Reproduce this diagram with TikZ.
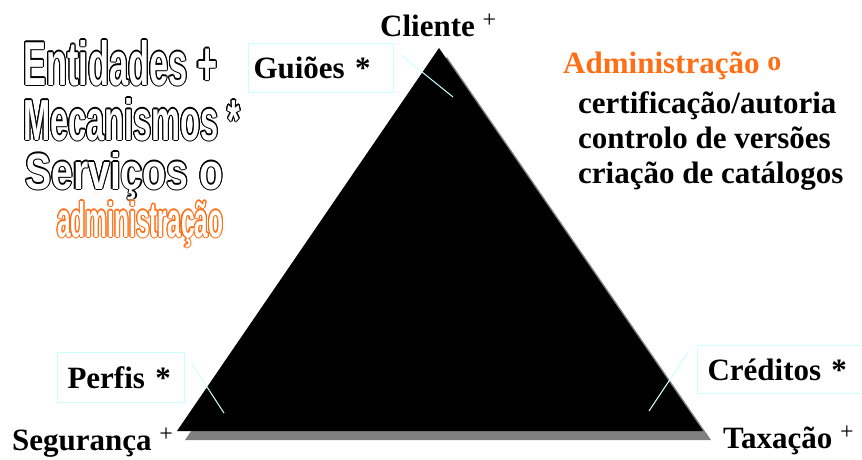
\documentclass[tikz,border=0pt]{standalone}
\usepackage{fontspec}
\usepackage{graphicx}
\setmainfont{Liberation Serif}
\newfontfamily\olfont{Liberation Sans}
\definecolor{orng}{RGB}{255,110,20}
\definecolor{pcyan}{RGB}{204,255,255}
\definecolor{shadowgray}{RGB}{128,128,128}
\newcommand\supplus{{\fontsize{24}{24}\selectfont\mdseries\raisebox{9pt}{+}}}
\newcommand\myOutline[6]{%
  \foreach \ang in {0,30,...,330}{%
    \node[otext,text=#3,shift={(\ang:1.1pt)}] at #1 {\resizebox{#4}{#5}{\olfont\bfseries #6}};}%
  \node[otext,text=white] (#2) at #1 {\resizebox{#4}{#5}{\olfont\bfseries #6}};%
}
\begin{document}
\begin{tikzpicture}[x=1pt,y=-1pt,
  otext/.style={anchor=base west,inner sep=0pt},
  lbl/.style={anchor=base west,inner sep=0pt,font=\fontsize{31}{36}\selectfont\bfseries},
  cbox/.style={draw=pcyan,line width=1pt,anchor=north west,align=left,
    font=\fontsize{31}{36}\selectfont\bfseries},
  cline/.style={draw=pcyan,line width=1pt}]
\useasboundingbox (0,0) rectangle (862,459);
\clip (0,0) rectangle (862,459);
% triangle
\coordinate (apex) at (439,48);
\coordinate (bl) at (177,431);
\coordinate (br) at (703,431);
\fill[shadowgray] ([shift={(8,9)}]apex) -- ([shift={(8,9)}]bl) -- ([shift={(8,9)}]br) -- cycle;
\fill[black] (apex) -- (bl) -- (br) -- cycle;
% vertex labels
\node[lbl] (cliente) at (380,36) {Cliente \supplus};
\node[lbl] (seguranca) at (12,450) {Segurança \supplus};
\node[lbl] (taxacao) at (723,448) {Taxação \supplus};
% boxes
\node[cbox,minimum width=145pt,minimum height=49pt,inner xsep=5pt,text width=135pt] (guioes) at (248,43) {Guiões *};
\node[cbox,minimum width=127pt,minimum height=50pt,inner xsep=10pt,text width=107pt] (perfis) at (57,352) {Perfis *};
\node[cbox,minimum width=180pt,minimum height=48pt,inner xsep=10pt,text width=160pt] (creditos) at (697,345) {Créditos *};
% pointer lines
\coordinate (gA) at (401,55); \coordinate (gB) at (453,97);
\coordinate (pA) at (192,364); \coordinate (pB) at (224,413);
\coordinate (cA) at (689,351); \coordinate (cB) at (649,411);
\draw[cline] (gA) -- (gB);
\draw[cline] (pA) -- (pB);
\draw[cline] (cA) -- (cB);
% administration text
\node[lbl,text=orng] (adm) at (563,73) {Administração {\fontsize{28}{28}\selectfont\raisebox{3pt}{o}}};
\node[lbl] (l1) at (578,113) {certificação/autoria};
\node[lbl] (l2) at (578,148) {controlo de versões};
\node[lbl] (l3) at (578,183) {criação de catálogos};
% outlined legend
\myOutline{(23,85)}{ent}{black}{194pt}{45pt}{Entidades +}
\myOutline{(23,140)}{mec}{black}{217pt}{42pt}{Mecanismos *}
\myOutline{(25,189)}{serv}{black}{198pt}{37pt}{Serviços o}
\myOutline{(57,237)}{adml}{orng}{166pt}{36pt}{administração}
\end{tikzpicture}
\end{document}
